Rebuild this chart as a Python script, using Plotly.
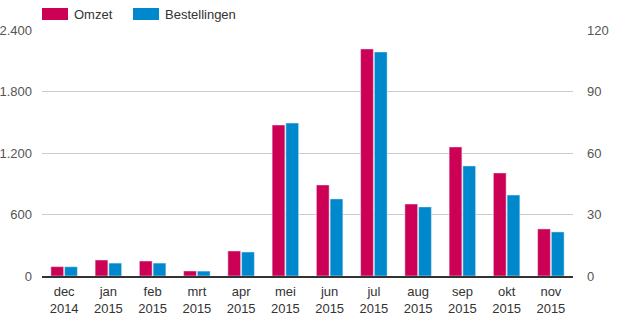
import plotly.graph_objects as go

months = ["dec<br>2014", "jan<br>2015", "feb<br>2015", "mrt<br>2015", "apr<br>2015", "mei<br>2015",
          "jun<br>2015", "jul<br>2015", "aug<br>2015", "sep<br>2015", "okt<br>2015", "nov<br>2015"]
omzet = [91, 156, 146, 49, 244, 1473, 888, 2215, 702, 1259, 1005, 459]
bestellingen = [4.5, 6.3, 6.3, 2.4, 11.7, 74.6, 37.6, 109.3, 33.7, 53.7, 39.5, 21.5]
left_ticks = [0, 600, 1200, 1800, 2400]
right_ticks = [0, 30, 60, 90, 120]

C_OMZET = "#cc0055"
C_BEST = "#0088cc"
FONT = "Liberation Sans, Arial, sans-serif"

fig = go.Figure()
fig.add_trace(go.Bar(x=months, y=omzet, name="Omzet", marker_color=C_OMZET,
                     offsetgroup="1", yaxis="y", showlegend=False))
fig.add_trace(go.Bar(x=months, y=bestellingen, name="Bestellingen", marker_color=C_BEST,
                     offsetgroup="2", yaxis="y2", showlegend=False))

# custom legend (wide swatches like the reference)
legend_items = [("Omzet", C_OMZET, 42), ("Bestellingen", C_BEST, 133)]
for label, col, x0 in legend_items:
    fig.add_shape(type="rect", xref="paper", yref="paper",
                  x0=(x0 - 42) / 531, x1=(x0 - 42 + 26) / 531,
                  y0=(276 - 20) / 246, y1=(276 - 8) / 246,
                  fillcolor=col, line_width=0, layer="above")
    fig.add_annotation(text=label, xref="paper", yref="paper",
                       x=(x0 - 42 + 30) / 531, y=(276 - 14) / 246,
                       xanchor="left", yanchor="middle", showarrow=False,
                       font=dict(family=FONT, size=13, color="#333333"))

fig.update_layout(
    width=623, height=325,
    margin=dict(l=42, r=50, t=30, b=49, autoexpand=False),
    plot_bgcolor="white", paper_bgcolor="white",
    barmode="group", bargap=0.38, bargroupgap=0.07,
    separators=",.",
    font=dict(family=FONT, size=13, color="#333333"),
    xaxis=dict(showgrid=False, showline=True, linecolor="#333333", linewidth=1.5,
               ticks="", ticklabelstandoff=3, automargin=False,
               tickfont=dict(size=13, color="#333333"), fixedrange=True),
    yaxis=dict(range=[0, 2400], tickvals=left_ticks, tickformat=",d",
               showgrid=True, gridcolor="#cccccc", gridwidth=1, zeroline=False,
               ticks="", ticklabelstandoff=9, automargin=False,
               tickfont=dict(size=13, color="#555555")),
    yaxis2=dict(range=[0, 120], tickvals=right_ticks, overlaying="y", side="right",
                showgrid=False, zeroline=False, ticks="", ticklabelstandoff=13,
                automargin=False, tickfont=dict(size=13, color="#555555")),
    showlegend=False,
)

fig.write_html("out.html")
